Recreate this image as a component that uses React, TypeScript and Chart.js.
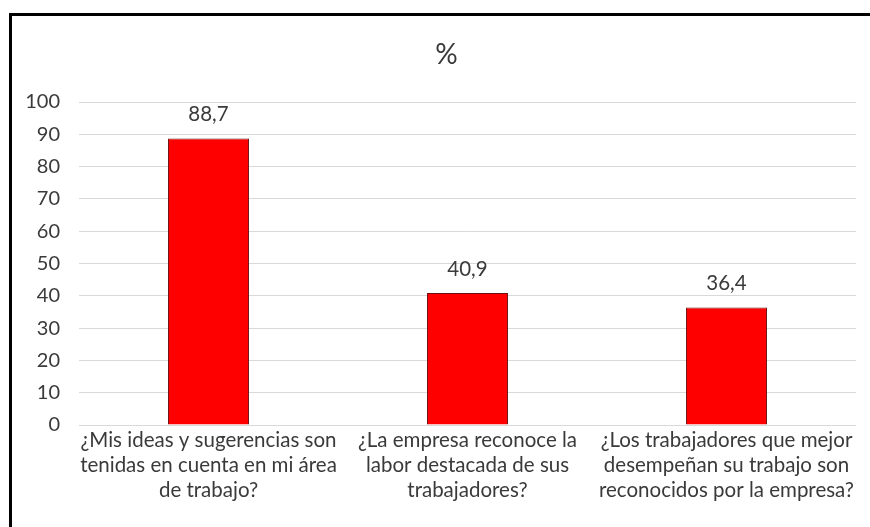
import React, { useEffect, useRef } from "react";
import { Chart, registerables } from "chart.js";

Chart.register(...registerables);

const categories: string[][] = [
  ["¿Mis ideas y sugerencias son", "tenidas en cuenta en mi área", "de trabajo?"],
  ["¿La empresa reconoce la", "labor destacada de sus", "trabajadores?"],
  ["¿Los trabajadores que mejor", "desempeñan su trabajo son", "reconocidos por la empresa?"],
];
const values: number[] = [88.7, 40.9, 36.4];
const yTicks: number[] = [0, 10, 20, 30, 40, 50, 60, 70, 80, 90, 100];
const title = "%";

const FONT = "Lato, 'Open Sans', sans-serif";
const TEXT = "#3a3a3a";

export default function App() {
  const ref = useRef<HTMLCanvasElement | null>(null);
  useEffect(() => {
    if (!ref.current) return;
    const labelPlugin = {
      id: "labelsAndTitle",
      afterDatasetsDraw(chart: any) {
        const ctx = chart.ctx;
        ctx.save();
        ctx.fillStyle = TEXT;
        ctx.textAlign = "center";
        ctx.textBaseline = "middle";
        ctx.font = `20.5px ${FONT}`;
        const meta = chart.getDatasetMeta(0);
        meta.data.forEach((bar: any, i: number) => {
          ctx.fillText(values[i].toFixed(1).replace(".", ","), bar.x, bar.y - 24);
        });
        ctx.font = `28px ${FONT}`;
        ctx.fillText(title, (chart.chartArea.left + chart.chartArea.right) / 2 - 21, 55);
        ctx.restore();
      },
    };
    const chart = new Chart(ref.current, {
      type: "bar",
      data: {
        labels: categories,
        datasets: [
          {
            data: values,
            backgroundColor: "#FF0000",
            borderColor: "#6b1010",
            borderWidth: 1,
            barPercentage: 0.313,
            categoryPercentage: 1,
          },
        ],
      },
      options: {
        animation: false,
        responsive: false,
        maintainAspectRatio: false,
        layout: { padding: { top: 102, left: 0, right: 14, bottom: 0 } },
        plugins: { legend: { display: false }, title: { display: false }, tooltip: { enabled: false } },
        scales: {
          x: {
            grid: { display: false, drawTicks: false },
            border: { display: false },
            ticks: {
              color: TEXT,
              font: { family: FONT, size: 20.5, lineHeight: 1.22 },
              padding: 3,
              autoSkip: false,
              maxRotation: 0,
              minRotation: 0,
            },
            afterFit(scale: any) {
              scale.height = 102;
            },
          },
          y: {
            min: 0,
            max: 100,
            afterBuildTicks(scale: any) {
              scale.ticks = yTicks.map((v) => ({ value: v }));
            },
            grid: { color: "#d9d9d9", lineWidth: 1, drawTicks: false },
            border: { display: false },
            ticks: {
              color: TEXT,
              font: { family: FONT, size: 20 },
              padding: 19,
            },
            afterFit(scale: any) {
              scale.width = 79;
            },
          },
        },
      },
      plugins: [labelPlugin],
    });
    return () => chart.destroy();
  }, []);
  return (
    <div style={{ position: "fixed", left: 0, top: 0, width: 870, height: 527, background: "#fff", overflow: "hidden" }}>
      <div
        style={{
          position: "absolute",
          left: 9,
          top: 13,
          width: 900,
          height: 600,
          borderLeft: "3px solid #000",
          borderTop: "3px solid #000",
        }}
      />
      <canvas ref={ref} width={870} height={527} style={{ position: "absolute", left: 0, top: 0 }} />
    </div>
  );
}
